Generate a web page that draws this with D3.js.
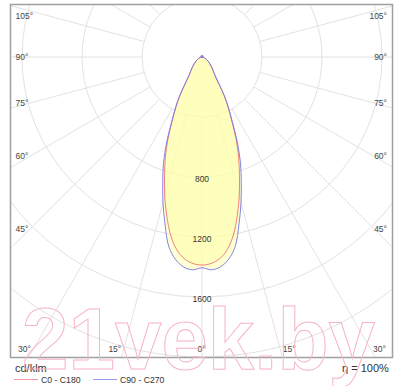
<!DOCTYPE html>
<html>
<head>
<meta charset="utf-8">
<script src="https://cdn.jsdelivr.net/npm/d3@7"></script>
<style>
  body { margin: 0; background: #fff; }
  svg { display: block; font-family: Arial, "Liberation Sans", sans-serif; }
</style>
</head>
<body>
<div id="viz"></div>
<script>
// gamma angles (deg from nadir) and intensities in cd/klm
var gammas  = [0, 2.5, 5, 7.5, 10, 12.5, 15, 17.5, 20, 22.5, 25, 27.5, 30, 35, 40, 45, 50, 55, 60, 65, 70, 75, 80, 85, 90];
var c0c180  = [1387, 1378, 1350, 1295, 1205, 1085, 960, 830, 715, 595, 470, 375, 290, 150, 110, 85, 65, 50, 38, 27, 18, 11, 6, 2, 0];
var c90c270 = [1405, 1420, 1405, 1360, 1280, 1140, 1005, 870, 750, 615, 480, 385, 298, 155, 113, 87, 66, 51, 38, 27, 18, 11, 6, 2, 0];

var ringValues = [400, 800, 1200, 1600, 2000, 2400, 2800, 3200];
var ringLabels = [800, 1200, 1600];
var sideAngles = [45, 60, 75, 90, 105];
var bottomAngles = [30, 15, 0];
var seriesNames = ["C0 - C180", "C90 - C270"];
var unitLabel = "cd/klm";
var effLabel = "\u03b7 = 100%";

var W = 400, H = 386;
var cx = 202, cy = 57;
var frame = {x: 10, y: 4, w: 383, h: 354};

var r = d3.scaleLinear().domain([0, 400]).range([0, 60]);
var rad = function(d){ return d * Math.PI / 180; };

var svg = d3.select("#viz").append("svg")
    .attr("width", W)
    .attr("height", H);

svg.append("clipPath").attr("id", "clip")
  .append("rect")
    .attr("x", frame.x).attr("y", frame.y)
    .attr("width", frame.w).attr("height", frame.h);

var grid = svg.append("g").attr("clip-path", "url(#clip)");

// rings
grid.selectAll("circle.ring")
  .data(ringValues)
  .enter().append("circle")
    .attr("class", "ring")
    .attr("cx", cx).attr("cy", cy)
    .attr("r", function(d){ return r(d); })
    .style("fill", "none")
    .style("stroke", "#e2e2e2")
    .style("stroke-width", 1);

// rays every 15 deg, starting at the first ring
grid.selectAll("line.ray")
  .data(d3.range(0, 360, 15))
  .enter().append("line")
    .attr("class", "ray")
    .attr("x1", function(d){ return cx + r(400) * Math.sin(rad(d)); })
    .attr("y1", function(d){ return cy + r(400) * Math.cos(rad(d)); })
    .attr("x2", function(d){ return cx + r(4000) * Math.sin(rad(d)); })
    .attr("y2", function(d){ return cy + r(4000) * Math.cos(rad(d)); })
    .style("stroke", "#e2e2e2")
    .style("stroke-width", 1);

// curves: right half (C0 / C90) then mirrored left half
var curvePoints = function(vals){
    var pts = [];
    for (var i = gammas.length - 1; i >= 0; i--)
        pts.push([cx + r(vals[i]) * Math.sin(rad(gammas[i])), cy + r(vals[i]) * Math.cos(rad(gammas[i]))]);
    for (var j = 1; j < gammas.length; j++)
        pts.push([cx - r(vals[j]) * Math.sin(rad(gammas[j])), cy + r(vals[j]) * Math.cos(rad(gammas[j]))]);
    return pts;
};

var line = d3.line().curve(d3.curveCatmullRom.alpha(0.5));

var series = [
    {vals: c0c180, color: "#f07272"},
    {vals: c90c270, color: "#7676e8"}
];

series.forEach(function(s){
    svg.append("path")
        .attr("d", line(curvePoints(s.vals)) + "Z")
        .style("fill", "#ffffa8")
        .style("fill-opacity", 0.5)
        .style("stroke", "none");
});
series.forEach(function(s){
    svg.append("path")
        .attr("d", line(curvePoints(s.vals)))
        .style("fill", "none")
        .style("stroke", s.color)
        .style("stroke-opacity", 0.9)
        .style("stroke-width", 1);
});
svg.append("circle")
    .attr("cx", cx).attr("cy", cy - 0.5).attr("r", 1.5)
    .style("fill", "#9070d8");

// ring labels
svg.selectAll("text.ringlab")
  .data(ringLabels)
  .enter().append("text")
    .attr("x", cx)
    .attr("y", function(d){ return cy + r(d) + 2; })
    .attr("dy", "0.35em")
    .attr("text-anchor", "middle")
    .style("font-size", "8.5px")
    .style("fill", "#333")
    .text(function(d){ return d; });

// side angle labels
var sideY = function(a, dx){
    var y = cy + dx / Math.tan(rad(a));
    return Math.max(y, 16);
};
sideAngles.forEach(function(a){
    svg.append("text")
        .attr("x", 15.5).attr("y", sideY(a, cx - 30)).attr("dy", "0.35em")
        .attr("text-anchor", "start")
        .style("font-size", "8.5px").style("fill", "#444")
        .text(a + "\u00b0");
    svg.append("text")
        .attr("x", 387).attr("y", sideY(a, 374 - cx)).attr("dy", "0.35em")
        .attr("text-anchor", "end")
        .style("font-size", "8.5px").style("fill", "#444")
        .text(a + "\u00b0");
});

// bottom angle labels
var by = 349;
bottomAngles.forEach(function(a){
    var off = (by - cy) * Math.tan(rad(a));
    if (a === 0) {
        svg.append("text")
            .attr("x", cx - 0.5).attr("y", by).attr("dy", "0.35em")
            .attr("text-anchor", "middle")
            .style("font-size", "8.5px").style("fill", "#444")
            .text(a + "\u00b0");
        return;
    }
    svg.append("text")
        .attr("x", cx - off - 2.5).attr("y", by).attr("dy", "0.35em")
        .attr("text-anchor", "end")
        .style("font-size", "8.5px").style("fill", "#444")
        .text(a + "\u00b0");
    svg.append("text")
        .attr("x", cx + off + 2.5).attr("y", by).attr("dy", "0.35em")
        .attr("text-anchor", "start")
        .style("font-size", "8.5px").style("fill", "#444")
        .text(a + "\u00b0");
});

// frame
svg.append("rect")
    .attr("x", frame.x + 0.5).attr("y", frame.y + 0.5)
    .attr("width", frame.w - 1).attr("height", frame.h - 1)
    .style("fill", "none")
    .style("stroke", "#a0a0a0")
    .style("stroke-width", 1.5);

// unit and efficiency
svg.append("text")
    .attr("x", 15).attr("y", 372)
    .style("font-size", "11px").style("fill", "#333")
    .text(unitLabel);
svg.append("text")
    .attr("x", 342).attr("y", 372)
    .style("font-size", "11px").style("fill", "#333")
    .text(effLabel);

// legend
var legX = [14, 93];
var legColors = ["#f49a9a", "#9c9cf0"];
seriesNames.forEach(function(n, i){
    svg.append("line")
        .attr("x1", legX[i]).attr("x2", legX[i] + 24)
        .attr("y1", 379.5).attr("y2", 379.5)
        .style("stroke", legColors[i])
        .style("stroke-width", 1);
    svg.append("text")
        .attr("x", legX[i] + 27).attr("y", 382.5)
        .style("font-size", "8.7px").style("fill", "#333")
        .text(n);
});

// watermark
svg.append("text")
    .attr("x", 22).attr("y", 369)
    .attr("textLength", 353)
    .attr("lengthAdjust", "spacingAndGlyphs")
    .style("font-size", "88px")
    .style("font-weight", "bold")
    .style("fill", "none")
    .style("stroke", "#f7b4c3")
    .style("stroke-width", 1)
    .text("21vek.by");
</script>
</body>
</html>
